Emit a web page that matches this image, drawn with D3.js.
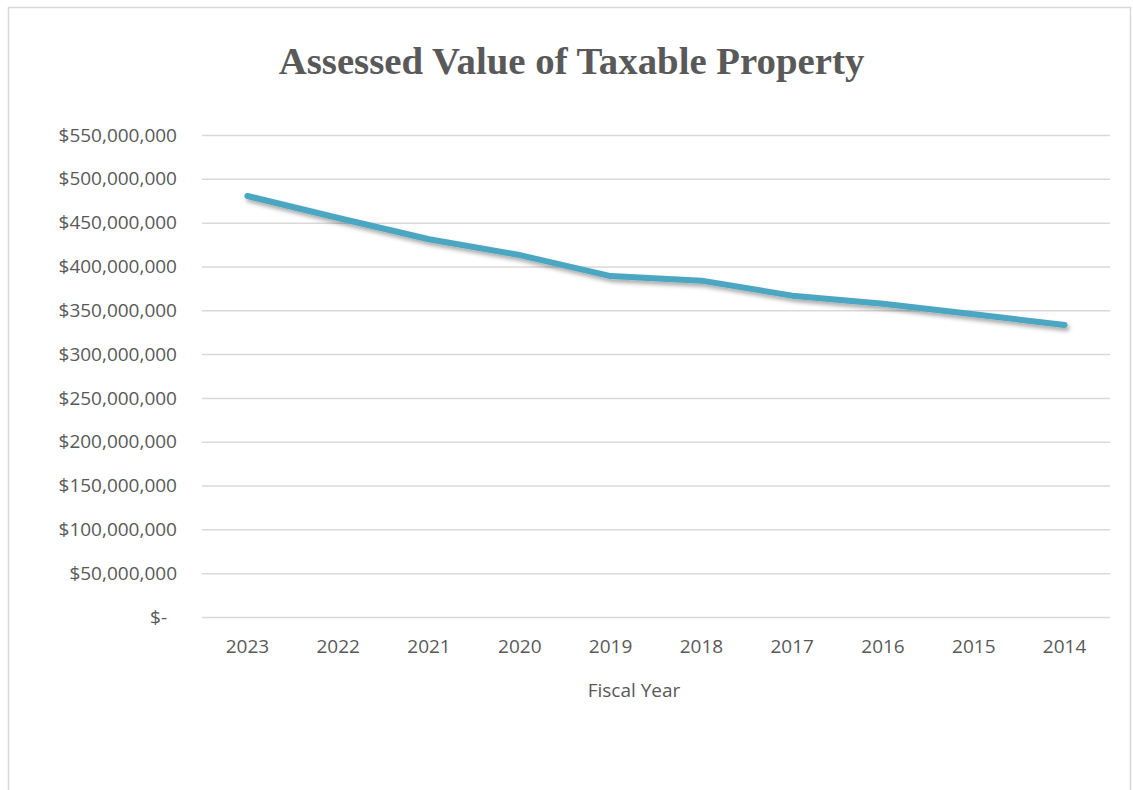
<!DOCTYPE html>
<html><head><meta charset="utf-8">
<script src="https://cdn.jsdelivr.net/npm/d3@7"></script>
<style>body{margin:0;background:#fff;} svg{display:block;}</style>
</head><body>
<svg id="chart" width="1133" height="790"></svg>
<script>
const years = ["2023","2022","2021","2020","2019","2018","2017","2016","2015","2014"];
const values = [480400000,455300000,431000000,413000000,389000000,383800000,366700000,357500000,345400000,333200000];
const yTicks = [0,50000000,100000000,150000000,200000000,250000000,300000000,350000000,400000000,450000000,500000000,550000000];
const titleText = "Assessed Value of Taxable Property";
const xTitle = "Fiscal Year";

const svg = d3.select("#chart");
const margin = {left:202, right:1110, top:135, bottom:617};
const grey = "#595959";
const labelFont = "'Open Sans',sans-serif";

svg.append("rect").attr("x",8.5).attr("y",7.5).attr("width",1122).attr("height",820)
  .attr("fill","#fff").attr("stroke","#d9d9d9").attr("stroke-width",1.5);

const defs = svg.append("defs");
const f = defs.append("filter").attr("id","sh").attr("x","-5%").attr("y","-20%").attr("width","110%").attr("height","160%");
f.append("feDropShadow").attr("dx",2).attr("dy",3).attr("stdDeviation",2).attr("flood-color","#000").attr("flood-opacity",0.35);

const x = d3.scaleBand().domain(years).range([margin.left, margin.right]);
const y = d3.scaleLinear().domain([0,550000000]).range([margin.bottom, margin.top]);

svg.append("text").attr("x",571.5).attr("y",73.5).attr("text-anchor","middle")
  .attr("font-family","'Liberation Serif','Times New Roman',serif").attr("font-weight","bold")
  .attr("font-size",38.8).attr("fill",grey).text(titleText);

const fmt = d => d===0 ? "$-" : "$" + d3.format(",")(d);
const yAxis = svg.append("g").attr("transform",`translate(${margin.left},0)`)
  .call(d3.axisLeft(y).tickValues(yTicks).tickFormat(fmt).tickSize(-(margin.right-margin.left)).tickPadding(25));
yAxis.select(".domain").remove();
yAxis.selectAll(".tick line").attr("stroke","#d9d9d9").attr("stroke-width",1.5);
yAxis.selectAll(".tick text").attr("font-family",labelFont).attr("font-size",19).attr("fill",grey)
  .attr("dx", d => d===0 ? -10 : 0);

const xAxis = svg.append("g").attr("transform",`translate(0,${margin.bottom})`)
  .call(d3.axisBottom(x).tickSize(0).tickPadding(23));
xAxis.select(".domain").remove();
xAxis.selectAll(".tick text").attr("font-family",labelFont).attr("font-size",19).attr("fill",grey);

svg.append("text").attr("x",634).attr("y",697).attr("text-anchor","middle")
  .attr("font-family",labelFont).attr("font-size",19).attr("fill",grey).text(xTitle);

const line = d3.line().x((d,i)=>x(years[i])+x.bandwidth()/2).y(d=>y(d));
svg.append("path").datum(values).attr("d",line).attr("fill","none")
  .attr("stroke","#4BA6C1").attr("stroke-width",6).attr("stroke-linecap","round").attr("stroke-linejoin","round")
  .attr("filter","url(#sh)");
</script>
</body></html>
